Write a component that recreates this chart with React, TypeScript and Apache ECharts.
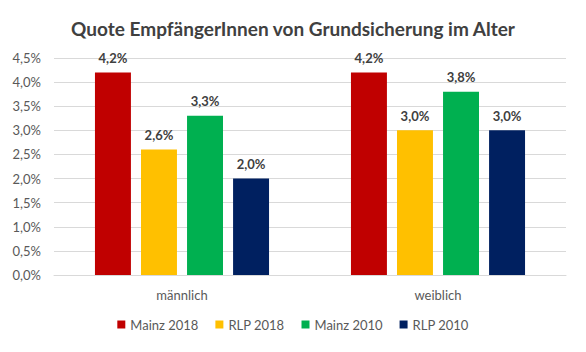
import React, { useEffect, useRef } from "react";
import * as echarts from "echarts";

const categories = ["männlich", "weiblich"];
const seriesNames = ["Mainz 2018", "RLP 2018", "Mainz 2010", "RLP 2010"];
const mainz2018 = [4.2, 4.2];
const rlp2018 = [2.6, 3.0];
const mainz2010 = [3.3, 3.8];
const rlp2010 = [2.0, 3.0];
const colors = ["#C00000", "#FFC000", "#00B050", "#002060"];

const fmt = (v: number) => v.toFixed(1).replace(".", ",") + "%";

export default function App() {
  const ref = useRef<HTMLDivElement>(null);
  useEffect(() => {
    const chart = echarts.init(ref.current!, null, { renderer: "svg" });
    const data = [mainz2018, rlp2018, mainz2010, rlp2010];
    chart.setOption({
      animation: false,
      backgroundColor: "#ffffff",
      textStyle: { fontFamily: "Lato" },
      title: {
        text: "Quote EmpfängerInnen von Grundsicherung im Alter",
        left: "center",
        top: 13,
        textStyle: { fontFamily: "Lato", fontSize: 19, fontWeight: "bold", color: "#404040" },
      },
      grid: { left: 53, right: 19, top: 57, bottom: 76 },
      legend: {
        bottom: 15,
        left: "center",
        itemWidth: 8,
        itemHeight: 8,
        itemGap: 17,
        icon: "rect",
        textStyle: { fontSize: 13, color: "#595959", fontFamily: "Lato" },
        data: seriesNames,
      },
      xAxis: {
        type: "category",
        data: categories,
        axisLine: { lineStyle: { color: "#d9d9d9" } },
        axisTick: { show: false },
        axisLabel: { fontSize: 13, color: "#595959", margin: 13 },
      },
      yAxis: {
        type: "value",
        min: 0,
        max: 4.5,
        interval: 0.5,
        axisLabel: { formatter: (v: number) => fmt(v), fontSize: 13, color: "#595959", margin: 13 },
        splitLine: { lineStyle: { color: "#d9d9d9" } },
        axisLine: { show: false },
        axisTick: { show: false },
      },
      series: seriesNames.map((name, i) => ({
        name,
        type: "bar",
        data: data[i],
        barGap: "28%",
        barCategoryGap: "32%",
        itemStyle: { color: colors[i] },
        label: {
          show: true,
          position: "top",
          distance: 8,
          formatter: (p: any) => fmt(p.value),
          fontSize: 13,
          fontWeight: "bold",
          color: "#404040",
        },
      })),
    });
    return () => chart.dispose();
  }, []);
  return (
    <div
      ref={ref}
      style={{ width: 584, height: 350, border: "1px solid #d9d9d9", margin: -8 }}
    />
  );
}
